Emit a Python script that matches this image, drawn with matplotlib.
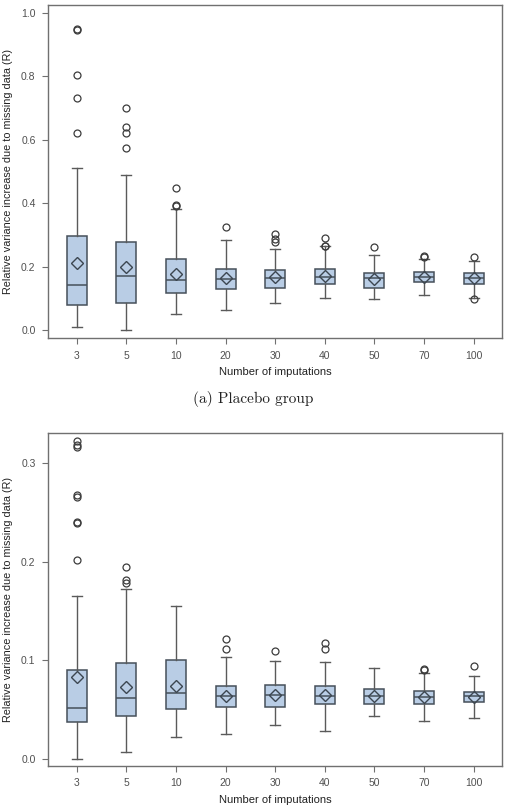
import matplotlib
matplotlib.use("Agg")
from matplotlib import pyplot as plt

plt.rcParams["font.family"] = ["Liberation Sans", "DejaVu Sans"]

imputations = ["3", "5", "10", "20", "30", "40", "50", "70", "100"]

# (a) placebo group
plac_q1 = [0.081, 0.086, 0.119, 0.129, 0.134, 0.147, 0.135, 0.152, 0.147]
plac_med = [0.144, 0.170, 0.159, 0.162, 0.164, 0.168, 0.164, 0.167, 0.165]
plac_q3 = [0.298, 0.279, 0.225, 0.194, 0.190, 0.195, 0.181, 0.185, 0.180]
plac_lo = [0.011, 0.000, 0.052, 0.065, 0.086, 0.101, 0.099, 0.111, 0.103]
plac_hi = [0.513, 0.491, 0.381, 0.286, 0.258, 0.266, 0.238, 0.225, 0.218]
plac_mean = [0.213, 0.201, 0.178, 0.164, 0.167, 0.172, 0.161, 0.168, 0.164]
plac_out = [[0.948, 0.945, 0.805, 0.732, 0.622],
            [0.702, 0.641, 0.622, 0.575],
            [0.449, 0.396, 0.391],
            [0.327],
            [0.304, 0.288, 0.279],
            [0.291, 0.267, 0.265],
            [0.263],
            [0.235, 0.231],
            [0.231, 0.098]]

# (b) second group
grp2_q1 = [0.0378, 0.0429, 0.0503, 0.0527, 0.0527, 0.0554, 0.0551, 0.0554, 0.0575]
grp2_med = [0.0514, 0.0616, 0.0670, 0.0636, 0.0646, 0.0636, 0.0636, 0.0629, 0.0633]
grp2_q3 = [0.0905, 0.0973, 0.1000, 0.0738, 0.0748, 0.0735, 0.0707, 0.0684, 0.0680]
grp2_lo = [0.0000, 0.0065, 0.0221, 0.0255, 0.0347, 0.0282, 0.0432, 0.0381, 0.0412]
grp2_hi = [0.1657, 0.1725, 0.1554, 0.1030, 0.0997, 0.0980, 0.0922, 0.0871, 0.0837]
grp2_mean = [0.0827, 0.0724, 0.0741, 0.0633, 0.0650, 0.0650, 0.0640, 0.0626, 0.0629]
grp2_out = [[0.323, 0.319, 0.317, 0.268, 0.266, 0.241, 0.240, 0.202],
            [0.1948, 0.1816, 0.179],
            [],
            [0.1214, 0.1119],
            [0.1099],
            [0.1173, 0.1112],
            [],
            [0.0915, 0.0901],
            [0.0946]]

fill = "#b9cde5"
edge = "#46505a"
grey = "#5a5a5a"


def draw(ax, q1, med, q3, lo, hi, mean, out, ylim, yticks):
    stats = []
    for i in range(len(imputations)):
        stats.append(dict(q1=q1[i], med=med[i], q3=q3[i], whislo=lo[i],
                          whishi=hi[i], mean=mean[i], fliers=out[i]))
    ax.bxp(stats, positions=range(1, len(stats) + 1), widths=0.4,
           patch_artist=True, showmeans=True, capwidths=0.2,
           boxprops=dict(facecolor=fill, edgecolor=edge, linewidth=1.1),
           medianprops=dict(color=edge, linewidth=1.1),
           whiskerprops=dict(color=grey, linewidth=1.0),
           capprops=dict(color=grey, linewidth=1.0),
           meanprops=dict(marker="D", markerfacecolor="none",
                          markeredgecolor="#3c4650", markersize=6.5,
                          markeredgewidth=1.0),
           flierprops=dict(marker="o", markerfacecolor="none",
                           markeredgecolor="#3c3c3c", markersize=5,
                           markeredgewidth=0.9))
    ax.set_xlim(0.42, 9.57)
    ax.set_ylim(*ylim)
    ax.set_yticks(yticks)
    ax.set_xticks(range(1, len(imputations) + 1))
    ax.set_xticklabels(imputations)
    for s in ax.spines.values():
        s.set_color("#707070")
        s.set_linewidth(1.0)
    ax.tick_params(direction="out", length=4, color="#707070",
                   labelcolor="#505050", labelsize=7.5, pad=5)
    ax.set_xlabel("Number of imputations", fontsize=8, color="#222222")
    ax.set_ylabel("Relative variance increase due to missing data (R)",
                  fontsize=7.8, color="#222222")
    ax.xaxis.set_label_coords(0.5, -0.088)
    ax.yaxis.set_label_coords(-0.078, 0.5)


fig = plt.figure(figsize=(5.06, 8.11), dpi=100)
ax1 = fig.add_axes([0.0949, 0.5832, 0.897, 0.4106])
ax2 = fig.add_axes([0.0949, 0.0555, 0.897, 0.4106])

draw(ax1, plac_q1, plac_med, plac_q3, plac_lo, plac_hi, plac_mean, plac_out,
     (-0.024, 1.025), [0.0, 0.2, 0.4, 0.6, 0.8, 1.0])
draw(ax2, grp2_q1, grp2_med, grp2_q3, grp2_lo, grp2_hi, grp2_mean, grp2_out,
     (-0.0074, 0.331), [0.0, 0.1, 0.2, 0.3])

fig.text(0.5, 1 - 399 / 811, "(a) Placebo group", ha="center", va="center",
         fontsize=11, family="cmr10", color="#222222")

fig.savefig("out.png", dpi=100)
